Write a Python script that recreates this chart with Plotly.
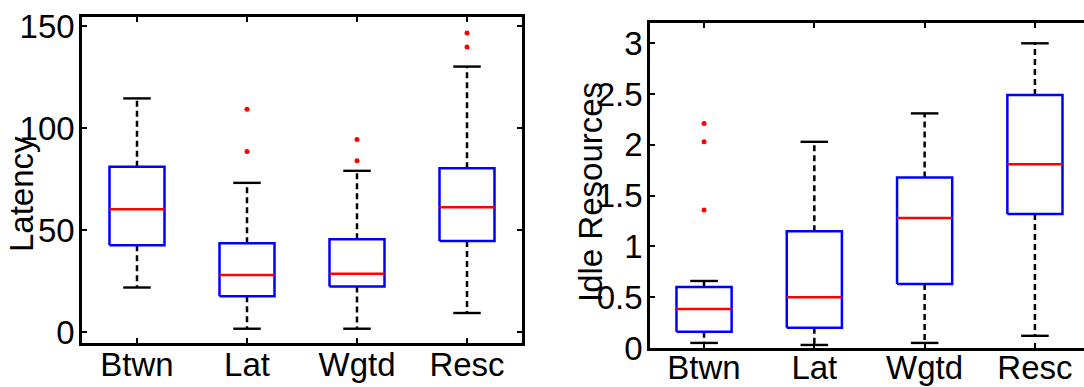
import plotly.graph_objects as go

categories = ["Btwn", "Lat", "Wgtd", "Resc"]

# Latency panel
lat_lower = [21.8, 1.6, 1.6, 9.3]
lat_q1 = [42.5, 17.5, 22.3, 44.6]
lat_median = [60.2, 27.9, 28.5, 61.1]
lat_q3 = [81.0, 43.5, 45.4, 80.3]
lat_upper = [114.5, 73.1, 79.0, 130.1]
lat_outliers = [[], [109.2, 88.5], [94.3, 83.9], [146.6, 139.7]]

# Idle Resources panel
idle_lower = [0.05, 0.03, 0.05, 0.12]
idle_q1 = [0.16, 0.20, 0.63, 1.32]
idle_median = [0.385, 0.50, 1.28, 1.81]
idle_q3 = [0.60, 1.15, 1.68, 2.49]
idle_upper = [0.66, 2.03, 2.31, 3.00]
idle_outliers = [[2.21, 2.03, 1.36], [], [], []]

lat_ticks = [0, 50, 100, 150]
idle_ticks = [0, 0.5, 1, 1.5, 2, 2.5, 3]

W, H = 1084, 387
FONT = "Liberation Sans, Arial, Helvetica, sans-serif"
FS = 33
BOXW = 0.25   # half box width
CAPW = 0.125  # half cap width

fig = go.Figure()


def add_panel(fig, xa, ya, lower, q1, med, q3, upper, outl):
    wx, wy, cx, cy, bx, by, mx, my, ox, oy = [], [], [], [], [], [], [], [], [], []
    for i in range(len(categories)):
        p = i + 1
        wx += [p, p, None, p, p, None]
        wy += [q3[i], upper[i], None, q1[i], lower[i], None]
        cx += [p - CAPW, p + CAPW, None, p - CAPW, p + CAPW, None]
        cy += [upper[i], upper[i], None, lower[i], lower[i], None]
        bx += [p - BOXW, p + BOXW, p + BOXW, p - BOXW, p - BOXW, None]
        by += [q1[i], q1[i], q3[i], q3[i], q1[i], None]
        mx += [p - BOXW, p + BOXW, None]
        my += [med[i], med[i], None]
        for v in outl[i]:
            ox.append(p)
            oy.append(v)
    common = dict(xaxis=xa, yaxis=ya, showlegend=False, hoverinfo="skip")
    fig.add_trace(go.Scatter(x=wx, y=wy, mode="lines",
                             line=dict(color="black", width=2.5, dash="6px,4px"), **common))
    fig.add_trace(go.Scatter(x=cx, y=cy, mode="lines",
                             line=dict(color="black", width=2.4), **common))
    fig.add_trace(go.Scatter(x=bx, y=by, mode="lines",
                             line=dict(color="#0000FF", width=2.5), **common))
    fig.add_trace(go.Scatter(x=mx, y=my, mode="lines",
                             line=dict(color="#FF0000", width=2.5), **common))
    fig.add_trace(go.Scatter(x=ox, y=oy, mode="markers",
                             marker=dict(color="#FF0000", size=5), **common))


add_panel(fig, "x", "y", lat_lower, lat_q1, lat_median, lat_q3, lat_upper, lat_outliers)
add_panel(fig, "x2", "y2", idle_lower, idle_q1, idle_median, idle_q3, idle_upper, idle_outliers)

axis_style = dict(
    showline=True, linecolor="black", linewidth=2.5,
    ticks="inside", ticklen=5, tickwidth=2, tickcolor="black",
    showgrid=False, zeroline=False, automargin=False,
    tickfont=dict(family=FONT, size=FS, color="black"),
)

fig.update_layout(
    width=W, height=H, autosize=False,
    margin=dict(l=0, r=0, t=0, b=0, pad=0, autoexpand=False),
    paper_bgcolor="white", plot_bgcolor="white",
    xaxis=dict(domain=[82 / W, 522 / W], range=[0.5, 4.5],
               tickvals=[1, 2, 3, 4], ticktext=categories, mirror="allticks",
               anchor="y", ticklabelstandoff=-9, **axis_style),
    yaxis=dict(domain=[(H - 343) / H, (H - 17) / H], range=[-5.4, 154.4],
               tickvals=lat_ticks, ticktext=[str(t) for t in lat_ticks],
               mirror="allticks", anchor="x", ticklabelstandoff=-2, **axis_style),
    xaxis2=dict(domain=[650 / W, 1.0], range=[0.51, 4.445],
                tickvals=[1, 2, 3, 4], ticktext=categories, mirror="allticks",
                anchor="y2", ticklabelstandoff=-11, **axis_style),
    yaxis2=dict(domain=[(H - 348) / H, (H - 23) / H], range=[0, 3.2],
                tickvals=idle_ticks, ticktext=[f"{t:g}" for t in idle_ticks],
                mirror=False, anchor="x2", ticklabelstandoff=-2, **axis_style),
    annotations=[
        dict(text="Latency", xref="paper", yref="paper",
             x=22 / W, y=(H - 194) / H, xanchor="center", yanchor="middle",
             textangle=-90, showarrow=False,
             font=dict(family=FONT, size=FS, color="black")),
        dict(text="Idle Resources", xref="paper", yref="paper",
             x=590 / W, y=(H - 192) / H, xanchor="center", yanchor="middle",
             textangle=-90, showarrow=False,
             font=dict(family=FONT, size=FS, color="black")),
    ],
)

fig.write_html(
    "out.html",
    config={"displayModeBar": False},
    post_script="document.body.style.margin='0';document.body.style.padding='0';"
                "document.body.style.overflow='hidden';",
)
